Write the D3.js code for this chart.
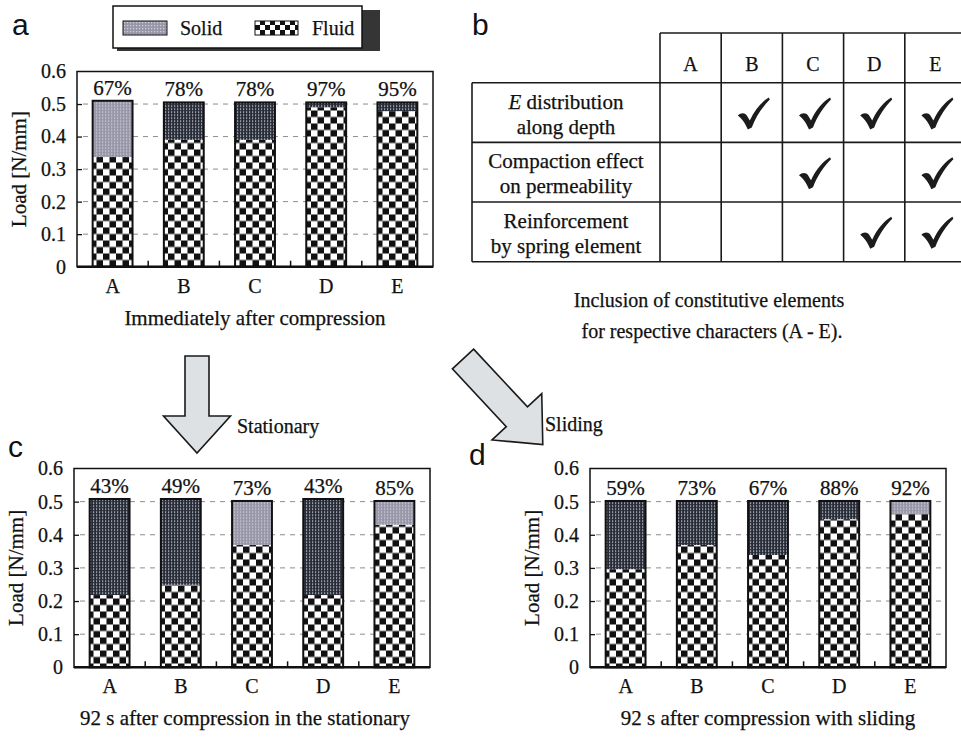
<!DOCTYPE html>
<html><head><meta charset="utf-8">
<script src="https://cdn.jsdelivr.net/npm/d3@7/dist/d3.min.js"></script>
<style>
html,body{margin:0;padding:0;background:#fff;}
svg{display:block;}
text{font-family:"Liberation Serif","Times New Roman",serif;fill:#111;stroke:#111;stroke-width:0.25px;}
.sans{font-family:"Liberation Sans",Arial,sans-serif;stroke-width:0;}
</style></head>
<body>
<script>
// ---------------- DATA ----------------
const categories = ["A", "B", "C", "D", "E"];
const yTicks = [0, 0.1, 0.2, 0.3, 0.4, 0.5, 0.6];

// Panel a: immediately after compression
const fluidA = [0.337, 0.390, 0.390, 0.490, 0.478];
const solidA = [0.173, 0.115, 0.115, 0.015, 0.027];
const pctA = ["67%", "78%", "78%", "97%", "95%"];

// Panel c: 92 s after compression, stationary
const fluidC = [0.218, 0.249, 0.369, 0.218, 0.430];
const solidC = [0.290, 0.259, 0.133, 0.290, 0.072];
const pctC = ["43%", "49%", "73%", "43%", "85%"];

// Panel d: 92 s after compression, sliding
const fluidD = [0.296, 0.369, 0.339, 0.447, 0.463];
const solidD = [0.206, 0.133, 0.163, 0.055, 0.039];
const pctD = ["59%", "73%", "67%", "88%", "92%"];

// Panel b: table
const tableRows = [
  ["E distribution", "along depth"],
  ["Compaction effect", "on permeability"],
  ["Reinforcement", "by spring element"]
];
const checks = [
  [0, 1, 1, 1, 1],
  [0, 0, 1, 0, 1],
  [0, 0, 0, 1, 1]
];
const legendLabels = ["Solid", "Fluid"];

// ---------------- STYLE ----------------
const lightSolid = { a: ["A"], c: ["C", "E"], d: ["E"] };

const W = 961, H = 743;
const svg = d3.select("body").append("svg").attr("width", W).attr("height", H);
svg.append("rect").attr("width", W).attr("height", H).attr("fill", "#fff");

const defs = svg.append("defs");
const pf = defs.append("pattern").attr("id", "fluid").attr("patternUnits", "userSpaceOnUse")
  .attr("width", 13).attr("height", 13);
pf.append("rect").attr("width", 13).attr("height", 13).attr("fill", "#fff");
pf.append("rect").attr("x", 0).attr("y", 0).attr("width", 6.5).attr("height", 6.5).attr("fill", "#111");
pf.append("rect").attr("x", 6.5).attr("y", 6.5).attr("width", 6.5).attr("height", 6.5).attr("fill", "#111");

const pfl = defs.append("pattern").attr("id", "fluidLeg").attr("patternUnits", "userSpaceOnUse")
  .attr("width", 10).attr("height", 10);
pfl.append("rect").attr("width", 10).attr("height", 10).attr("fill", "#fff");
pfl.append("rect").attr("width", 5).attr("height", 5).attr("fill", "#111");
pfl.append("rect").attr("x", 5).attr("y", 5).attr("width", 5).attr("height", 5).attr("fill", "#111");

const pd = defs.append("pattern").attr("id", "solidDark").attr("patternUnits", "userSpaceOnUse")
  .attr("width", 3).attr("height", 3);
pd.append("rect").attr("width", 3).attr("height", 3).attr("fill", "#262b37");
pd.append("rect").attr("x", 1).attr("y", 1).attr("width", 1.2).attr("height", 1.2).attr("fill", "#dce1e8");

const pl = defs.append("pattern").attr("id", "solidLight").attr("patternUnits", "userSpaceOnUse")
  .attr("width", 3).attr("height", 3);
pl.append("rect").attr("width", 3).attr("height", 3).attr("fill", "#9797a8");
pl.append("rect").attr("x", 1).attr("y", 1).attr("width", 1.2).attr("height", 1.2).attr("fill", "#d2d2de");

// ---------------- BAR PANELS ----------------
function drawPanel(key, box, fluid, solid, pcts, title, titleCx) {
  const g = svg.append("g").attr("transform", `translate(${box.left},${box.top})`);
  const x = d3.scaleBand().domain(categories).range([0, box.width]).paddingInner(0.44).paddingOuter(0.22);
  const y = d3.scaleLinear().domain([0, 0.6]).range([box.height, 0]);
  const data = categories.map((c, i) => ({ c, f: fluid[i], s: solid[i], p: pcts[i] }));

  // gridlines
  g.selectAll(".grid").data(yTicks.filter(t => t > 0 && t < 0.6)).enter().append("line")
    .attr("x1", 6).attr("x2", box.width).attr("y1", d => y(d)).attr("y2", d => y(d))
    .attr("stroke", "#8c8c8c").attr("stroke-width", 1).attr("stroke-dasharray", "5,5");

  // bars
  const bars = g.selectAll(".bar").data(data).enter().append("g");
  bars.append("rect").attr("x", d => x(d.c)).attr("width", x.bandwidth())
    .attr("y", d => y(d.f)).attr("height", d => y(0) - y(d.f)).attr("fill", "url(#fluid)");
  bars.append("rect").attr("x", d => x(d.c)).attr("width", x.bandwidth())
    .attr("y", d => y(d.f + d.s)).attr("height", d => y(d.f) - y(d.f + d.s))
    .attr("fill", d => lightSolid[key].includes(d.c) ? "url(#solidLight)" : "url(#solidDark)");
  bars.append("rect").attr("x", d => x(d.c)).attr("width", x.bandwidth())
    .attr("y", d => y(d.f + d.s)).attr("height", d => y(0) - y(d.f + d.s))
    .attr("fill", "none").attr("stroke", "#111").attr("stroke-width", 2);

  // percentage labels
  bars.append("text").attr("x", d => x(d.c) + x.bandwidth() / 2).attr("y", d => y(d.f + d.s) - 6)
    .attr("text-anchor", "middle").attr("font-size", 21).text(d => d.p);

  // frame
  g.append("rect").attr("width", box.width).attr("height", box.height)
    .attr("fill", "none").attr("stroke", "#111").attr("stroke-width", 1.5);
  g.append("line").attr("x1", 0).attr("x2", box.width).attr("y1", box.height).attr("y2", box.height)
    .attr("stroke", "#111").attr("stroke-width", 2.5);

  // y axis
  const ya = g.append("g").call(d3.axisLeft(y).tickValues(yTicks).tickSizeInner(-5).tickSizeOuter(0)
    .tickPadding(11).tickFormat(d => d === 0 ? "0" : d3.format(".1f")(d)));
  ya.select(".domain").remove();
  ya.selectAll(".tick line").attr("stroke", "#111").attr("stroke-width", 1.3)
    .style("display", d => (d === 0 || d === 0.6) ? "none" : null);
  ya.selectAll("text").attr("font-size", 20).attr("fill", "#111");

  // x axis
  const xa = g.append("g").attr("transform", `translate(0,${box.height})`)
    .call(d3.axisBottom(x).tickSize(0).tickPadding(12));
  xa.select(".domain").remove();
  xa.selectAll("text").attr("font-size", 20).attr("fill", "#111");

  // separators between categories
  g.selectAll(".sep").data(categories.slice(1)).enter().append("line")
    .attr("x1", d => x(d) - x.step() * 0.22).attr("x2", d => x(d) - x.step() * 0.22)
    .attr("y1", box.height).attr("y2", box.height - 6)
    .attr("stroke", "#111").attr("stroke-width", 1.5);

  // y label
  g.append("text").attr("transform", `translate(-51,${box.height / 2}) rotate(-90)`)
    .attr("text-anchor", "middle").attr("font-size", 21).text("Load [N/mm]");

  // title
  svg.append("text").attr("x", titleCx).attr("y", box.top + box.height + 58)
    .attr("text-anchor", "middle").attr("font-size", 21).text(title);
}

drawPanel("a", { left: 77, top: 71.5, width: 356, height: 195.2 }, fluidA, solidA, pctA,
  "Immediately after compression", 255);
drawPanel("c", { left: 74, top: 468.5, width: 356, height: 198.8 }, fluidC, solidC, pctC,
  "92 s after compression in the stationary", 245);
drawPanel("d", { left: 590, top: 468.5, width: 356, height: 198.8 }, fluidD, solidD, pctD,
  "92 s after compression with sliding", 768);

// ---------------- LEGEND ----------------
svg.append("rect").attr("x", 362).attr("y", 10).attr("width", 18).attr("height", 41).attr("fill", "#353535");
svg.append("rect").attr("x", 117).attr("y", 48).attr("width", 263).attr("height", 3).attr("fill", "#353535");
svg.append("rect").attr("x", 113).attr("y", 6).attr("width", 249).attr("height", 42)
  .attr("fill", "#fff").attr("stroke", "#111").attr("stroke-width", 1.5);
svg.append("rect").attr("x", 123).attr("y", 21).attr("width", 44).attr("height", 14)
  .attr("fill", "url(#solidLight)").attr("stroke", "#111").attr("stroke-width", 1);
svg.append("text").attr("x", 180).attr("y", 35).attr("font-size", 20).text(legendLabels[0]);
svg.append("rect").attr("x", 255).attr("y", 21).attr("width", 43).attr("height", 14)
  .attr("fill", "url(#fluidLeg)").attr("stroke", "#111").attr("stroke-width", 1);
svg.append("text").attr("x", 312).attr("y", 35).attr("font-size", 20).text(legendLabels[1]);

// ---------------- PANEL LETTERS ----------------
[["a", 12, 35], ["b", 472, 35], ["c", 8, 457], ["d", 469, 465]].forEach(([t, px, py]) =>
  svg.append("text").attr("class", "sans").attr("x", px).attr("y", py).attr("font-size", 30).text(t));

// ---------------- TABLE (b) ----------------
const tb = svg.append("g");
const colX = d3.scaleBand().domain(categories).range([660, 966]);
const rowY = d3.scaleBand().domain(d3.range(tableRows.length)).range([82.7, 261.7]);
const headTop = 33, leftX = 472;
const ls = { stroke: "#1a1a1a", w: 1.6 };
function hl(x1, x2, yy) { tb.append("line").attr("x1", x1).attr("x2", x2).attr("y1", yy).attr("y2", yy).attr("stroke", ls.stroke).attr("stroke-width", ls.w); }
function vl(xx, y1, y2) { tb.append("line").attr("x1", xx).attr("x2", xx).attr("y1", y1).attr("y2", y2).attr("stroke", ls.stroke).attr("stroke-width", ls.w); }
hl(660, 966, headTop);
hl(leftX, 966, rowY(0));
tableRows.forEach((r, i) => hl(leftX, 966, rowY(i) + rowY.bandwidth()));
vl(leftX, rowY(0), 261.7);
categories.forEach(c => vl(colX(c), headTop, 261.7));
vl(966, headTop, 261.7);
categories.forEach(c => tb.append("text").attr("x", colX(c) + colX.bandwidth() / 2).attr("y", 71)
  .attr("text-anchor", "middle").attr("font-size", 20).text(c));
tableRows.forEach((r, i) => {
  const cy = rowY(i) + rowY.bandwidth() / 2;
  const cx = (leftX + 660) / 2;
  const t1 = tb.append("text").attr("x", cx).attr("y", cy - 4).attr("text-anchor", "middle").attr("font-size", 21);
  if (r[0].startsWith("E ")) {
    t1.append("tspan").attr("font-style", "italic").text("E");
    t1.append("tspan").text(r[0].slice(1));
  } else t1.text(r[0]);
  tb.append("text").attr("x", cx).attr("y", cy + 21).attr("text-anchor", "middle").attr("font-size", 21).text(r[1]);
});
const checkPath = "M -15,2 C -12,-1 -8,-1 -6,2 L -3,7 C 2,-4 9,-12 16,-16 L 17,-14 C 10,-7 3,3 -1,14 L -5,16 C -8,9 -11,5 -15,2 Z";
checks.forEach((row, i) => row.forEach((v, j) => {
  if (!v) return;
  tb.append("path").attr("d", checkPath).attr("fill", "#1c1c1c")
    .attr("transform", `translate(${colX(categories[j]) + colX.bandwidth() / 2 + 1},${rowY(i) + rowY.bandwidth() / 2 + 1})`);
}));
tb.append("text").attr("x", 709).attr("y", 307).attr("text-anchor", "middle").attr("font-size", 20)
  .text("Inclusion of constitutive elements");
tb.append("text").attr("x", 712).attr("y", 338).attr("text-anchor", "middle").attr("font-size", 20)
  .text("for respective characters (A - E).");

// ---------------- ARROWS ----------------
function arrow(x0, y0, angleDeg, len, shaftW, headW, headL) {
  const sl = len - headL;
  const pts = [[0, -shaftW / 2], [sl, -shaftW / 2], [sl, -headW / 2], [len, 0], [sl, headW / 2], [sl, shaftW / 2], [0, shaftW / 2]];
  svg.append("path").attr("d", "M" + pts.map(p => p.join(",")).join("L") + "Z")
    .attr("transform", `translate(${x0},${y0}) rotate(${angleDeg})`)
    .attr("fill", "#dde1e4").attr("stroke", "#1a1a1a").attr("stroke-width", 1.6).attr("stroke-linejoin", "miter");
}
arrow(197, 356, 90, 97, 24, 67, 37);
arrow(463, 359, 47, 117, 29, 68, 38);
svg.append("text").attr("x", 237).attr("y", 433).attr("font-size", 20).text("Stationary");
svg.append("text").attr("x", 545).attr("y", 431).attr("font-size", 20).text("Sliding");
</script>
</body></html>
